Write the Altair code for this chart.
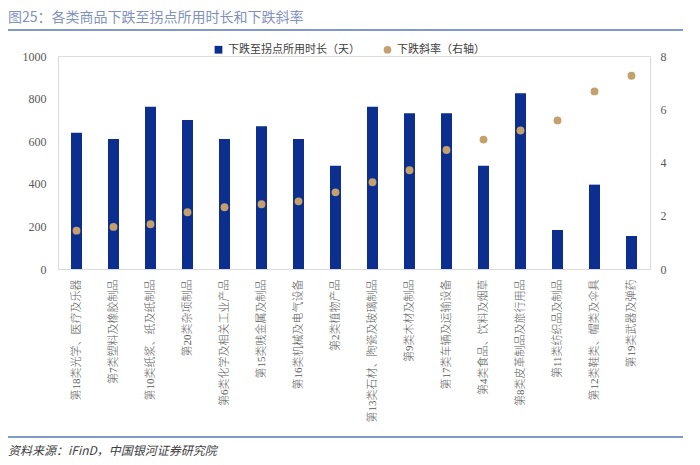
import altair as alt
import pandas as pd

categories = [
    "第18类光学、医疗及乐器",
    "第7类塑料及橡胶制品",
    "第10类纸浆、纸及纸制品",
    "第20类杂项制品",
    "第6类化学及相关工业产品",
    "第15类贱金属及制品",
    "第16类机械及电气设备",
    "第2类植物产品",
    "第13类石材、陶瓷及玻璃制品",
    "第9类木材及制品",
    "第17类车辆及运输设备",
    "第4类食品、饮料及烟草",
    "第8类皮革制品及旅行用品",
    "第11类纺织品及制品",
    "第12类鞋类、帽类及伞具",
    "第19类武器及弹药",
]
durations = [640, 610, 762, 700, 610, 670, 610, 485, 762, 731, 731, 485, 825, 183, 396, 155]
slopes = [1.44, 1.58, 1.68, 2.13, 2.32, 2.43, 2.54, 2.88, 3.26, 3.71, 4.47, 4.86, 5.20, 5.58, 6.67, 7.26]

S1 = "下跌至拐点所用时长（天）"
S2 = "下跌斜率（右轴）"
title_text = "图25：各类商品下跌至拐点所用时长和下跌斜率"
source_text = "资料来源：iFinD，中国银河证券研究院"

BLUE = "#0b2e8f"
TAN = "#c4a06c"
LINE = "#8099c8"
FONT = "'Liberation Serif', 'Noto Sans CJK SC'"
CJK = "Noto Sans CJK SC"

df = pd.DataFrame({"cat": categories, "dur": durations, "slope": slopes})

legend = alt.Legend(
    orient="none", legendX=155, legendY=-12, direction="horizontal", title=None,
    symbolSize=60, labelFontSize=11, labelFont=CJK, labelColor="#404040",
    columnPadding=22, symbolStrokeWidth=0,
)
cdomain = [S1, S2]
color_scale = alt.Scale(domain=cdomain, range=[BLUE, TAN])
shape_scale = alt.Scale(domain=cdomain, range=["square", "circle"])

xenc = alt.X(
    "cat:N", sort=categories, title=None,
    scale=alt.Scale(paddingInner=0, paddingOuter=0),
    axis=alt.Axis(labelAngle=-90, labelFont=FONT, labelFontSize=11, labelColor="#595959",
                  labelFontWeight=300,
                  labelPadding=10, ticks=False, domainColor="#d9d9d9", labelLimit=300),
)

bars = alt.Chart(df).transform_calculate(series=f"'{S1}'").mark_bar(size=11).encode(
    x=xenc,
    y=alt.Y("dur:Q", title=None,
            scale=alt.Scale(domain=[0, 1000]),
            axis=alt.Axis(values=[0, 200, 400, 600, 800, 1000], format="d", orient="left",
                          grid=False, ticks=False, labelFont=FONT, labelFontSize=12,
                          labelColor="#595959", labelPadding=12, domainColor="#d9d9d9")),
    color=alt.Color("series:N", scale=color_scale, legend=legend),
)

points = alt.Chart(df).transform_calculate(series=f"'{S2}'").mark_point(
    filled=True, size=62, opacity=1
).encode(
    x=xenc,
    y=alt.Y("slope:Q", title=None,
            scale=alt.Scale(domain=[0, 8]),
            axis=alt.Axis(values=[0, 2, 4, 6, 8], format="d", orient="right", grid=False,
                          ticks=False, labelFont=FONT, labelFontSize=12, labelColor="#595959",
                          labelPadding=10, domainColor="#d9d9d9")),
    color=alt.Color("series:N", scale=color_scale, legend=legend),
    shape=alt.Shape("series:N", scale=shape_scale, legend=legend),
)

one = pd.DataFrame({"t": [source_text], "h": [title_text]})
title = alt.Chart(one).mark_text(
    align="left", baseline="middle", font=CJK, fontSize=14, color="#7f92bd"
).encode(x=alt.value(-50), y=alt.value(-38), text="h:N")
top_line = alt.Chart(one).mark_rule(color=LINE, strokeWidth=2).encode(
    x=alt.value(-50), x2=alt.value(625), y=alt.value(-26))
bottom_line = alt.Chart(one).mark_rule(color=LINE, strokeWidth=2).encode(
    x=alt.value(-50), x2=alt.value(625), y=alt.value(381))
source = alt.Chart(one).mark_text(
    align="left", baseline="middle", font=CJK, fontSize=12, fontStyle="italic", color="#404040"
).encode(x=alt.value(-50), y=alt.value(395), text="t:N")

chart = alt.layer(bars, points, title, top_line, bottom_line, source).resolve_scale(
    y="independent"
).properties(
    width=592, height=213,
    autosize=alt.AutoSizeParams(type="none"),
    padding={"left": 50, "top": 48, "right": 42, "bottom": 188},
).configure_view(stroke=None).configure(background="white")

chart.save("out.html", embed_options={"renderer": "svg", "actions": False})
